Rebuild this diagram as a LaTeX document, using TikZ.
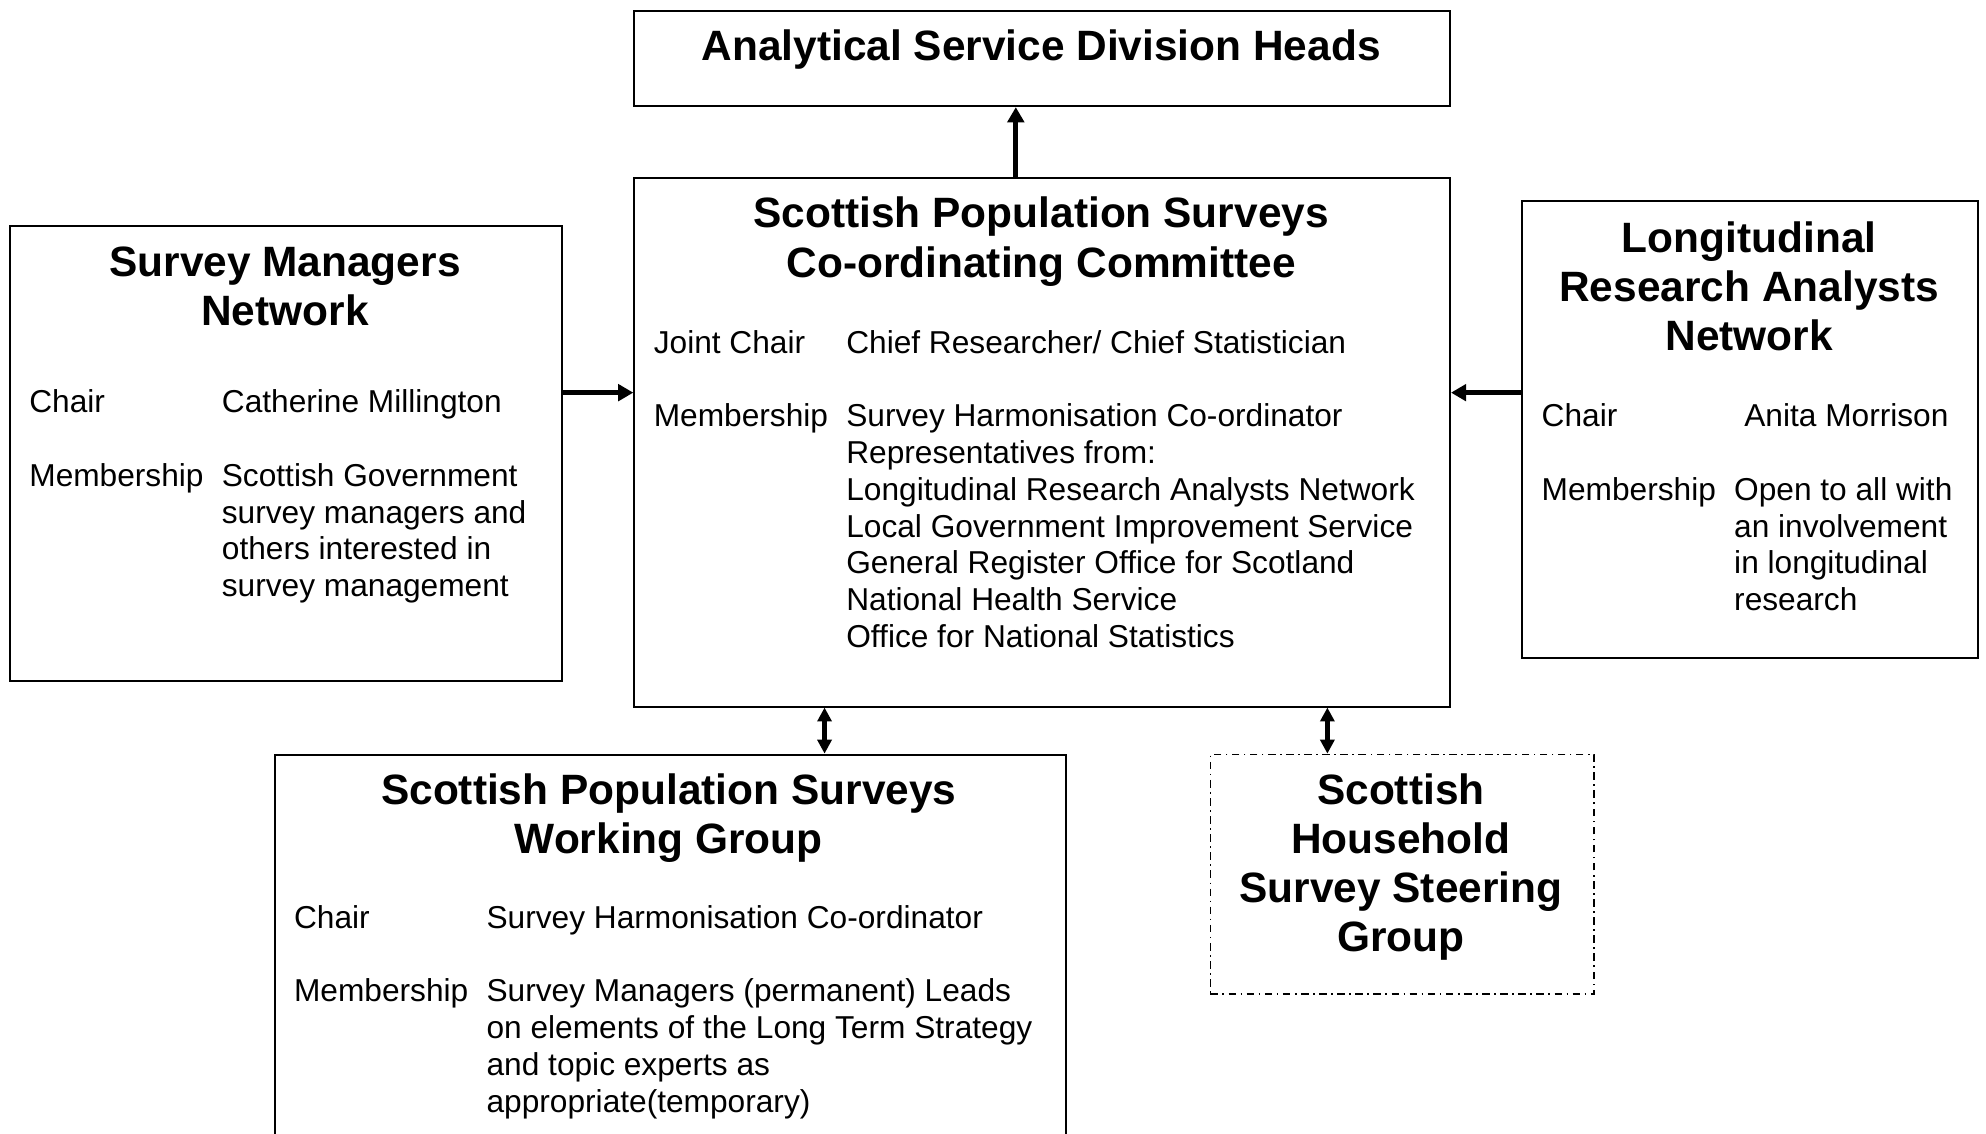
\documentclass[tikz,border=0pt]{standalone}
\usepackage{fontspec}
\setmainfont{Liberation Sans}
\usetikzlibrary{arrows.meta}
\newcommand{\bodyfont}{\fontsize{25}{29}\selectfont}
\newcommand{\headfont}{\fontsize{33.5}{38.8}\selectfont\bfseries}

\begin{document}
\begin{tikzpicture}[x=1pt,y=-1pt,
  box/.style={draw, line width=1.6pt, inner sep=0pt, anchor=north west},
  dashbox/.style={draw, line width=1.3pt, inner sep=0pt, anchor=north west,
    dash pattern=on 6pt off 3.5pt on 1.3pt off 3.5pt},
  head/.style={anchor=base, inner sep=0pt, font=\headfont},
  body/.style={anchor=base west, inner sep=0pt, font=\bodyfont},
  link/.style={line width=4pt, -{Triangle[width=13pt,length=12pt]}},
  dlink/.style={line width=3.4pt, {Triangle[width=11pt,length=11pt]}-{Triangle[width=11pt,length=11pt]}},
]
\useasboundingbox (0,0) rectangle (1568,895);
\clip (0,0) rectangle (1568,895);

% frames
\node[box, minimum width=644pt, minimum height=75pt]  (asd)  at (500,8)   {};
\node[box, minimum width=644pt, minimum height=417pt] (ctr)  at (500,140) {};
\node[box, minimum width=436pt, minimum height=359pt] (smn)  at (7,178)   {};
\node[box, minimum width=360pt, minimum height=361pt] (lran) at (1201,158) {};
\node[box, minimum width=625pt, minimum height=330pt] (wg)   at (216,595) {};
\node[dashbox, minimum width=303pt, minimum height=189pt] (shs) at (955,595) {};

% headings
\node[head] (asdT) at (822,48) {Analytical Service Division Heads};
\node[head] (ctrT) at (822,180) {\begin{tabular}[t]{@{}c@{}}Scottish Population Surveys\\Co-ordinating Committee\end{tabular}};
\node[head] (smnT) at (225,218) {\begin{tabular}[t]{@{}c@{}}Survey Managers\\Network\end{tabular}};
\node[head] (lranT) at (1381,199) {\begin{tabular}[t]{@{}c@{}}Longitudinal\\Research Analysts\\Network\end{tabular}};
\node[head] (wgT) at (528,635) {\begin{tabular}[t]{@{}c@{}}Scottish Population Surveys\\Working Group\end{tabular}};
\node[head] (shsT) at (1106,635) {\begin{tabular}[t]{@{}c@{}}Scottish\\Household\\Survey Steering\\Group\end{tabular}};

% chair and membership details
\node[body] (ctrB) at (516,279) {\begin{tabular}[t]{@{}p{152pt}@{}l@{}}
Joint Chair & Chief Researcher/ Chief Statistician\\[29pt]
Membership & Survey Harmonisation Co-ordinator\\
 & Representatives from:\\
 & Longitudinal Research Analysts Network\\
 & Local Government Improvement Service\\
 & General Register Office for Scotland\\
 & National Health Service\\
 & Office for National Statistics
\end{tabular}};

\node[body] (smnB) at (23,326) {\begin{tabular}[t]{@{}p{152pt}@{}l@{}}
Chair & Catherine Millington\\[29pt]
Membership & Scottish Government\\
 & survey managers and\\
 & others interested in\\
 & survey management
\end{tabular}};

\node[body] (lranB) at (1217,337) {\begin{tabular}[t]{@{}p{152pt}@{}l@{}}
Chair & \hspace{8pt}Anita Morrison\\[29pt]
Membership & Open to all with\\
 & an involvement\\
 & in longitudinal\\
 & research
\end{tabular}};

\node[body] (wgB) at (232,733) {\begin{tabular}[t]{@{}p{152pt}@{}l@{}}
Chair & Survey Harmonisation Co-ordinator\\[29pt]
Membership & Survey Managers (permanent) Leads\\
 & on elements of the Long Term Strategy\\
 & and topic experts as\\
 & appropriate(temporary)
\end{tabular}};

% connector guides
\coordinate (xup) at (802,0);
\coordinate (xwg) at (651,0);
\coordinate (xshs) at (1048,0);
\coordinate (ymid) at (0,310);

% connectors
\draw[link] (ctr.north -| xup) -- (asd.south -| xup);
\draw[link] (smn.east |- ymid) -- (ctr.west |- ymid);
\draw[link] (lran.west |- ymid) -- (ctr.east |- ymid);
\draw[dlink] (ctr.south -| xwg) -- (wg.north -| xwg);
\draw[dlink] (ctr.south -| xshs) -- (shs.north -| xshs);
\end{tikzpicture}
\end{document}
